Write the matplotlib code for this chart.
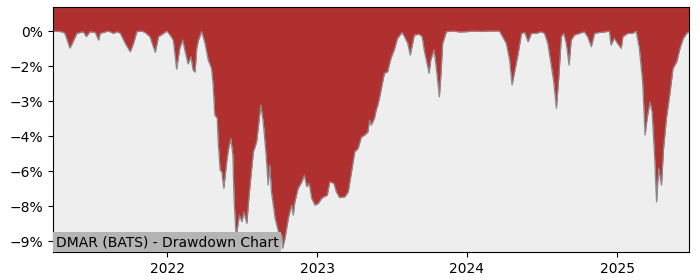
import matplotlib
matplotlib.use("Agg")
import matplotlib.pyplot as plt
import matplotlib.ticker as mticker
import pandas as pd

dates = [
    "2021-03-29", "2021-04-19", "2021-04-27", "2021-05-09", "2021-05-13", "2021-05-26",
    "2021-06-11", "2021-06-18", "2021-06-27", "2021-07-10", "2021-07-18", "2021-07-22",
    "2021-08-11", "2021-08-23", "2021-09-01", "2021-09-09", "2021-09-21", "2021-10-03",
    "2021-10-11", "2021-10-19", "2021-10-31", "2021-11-08", "2021-11-20", "2021-12-03",
    "2021-12-11", "2021-12-23", "2021-12-31", "2022-01-08", "2022-01-16", "2022-01-24",
    "2022-02-01", "2022-02-08", "2022-02-13", "2022-02-21", "2022-02-28", "2022-03-05",
    "2022-03-10", "2022-03-14", "2022-03-18", "2022-03-26", "2022-04-03", "2022-04-11",
    "2022-04-19", "2022-04-23", "2022-04-27", "2022-05-03", "2022-05-05", "2022-05-10",
    "2022-05-14", "2022-05-19", "2022-05-26", "2022-05-30", "2022-06-05", "2022-06-10",
    "2022-06-13", "2022-06-18", "2022-06-26", "2022-07-02", "2022-07-07", "2022-07-14",
    "2022-07-20", "2022-07-30", "2022-08-07", "2022-08-17", "2022-08-23", "2022-08-30",
    "2022-09-04", "2022-09-08", "2022-09-12", "2022-09-21", "2022-09-29", "2022-10-07",
    "2022-10-09", "2022-10-15", "2022-10-23", "2022-10-31", "2022-11-04", "2022-11-08",
    "2022-11-16", "2022-11-25", "2022-12-01", "2022-12-07", "2022-12-13", "2022-12-19",
    "2022-12-27", "2023-01-04", "2023-01-12", "2023-01-18", "2023-01-26", "2023-02-01",
    "2023-02-11", "2023-02-17", "2023-02-25", "2023-03-10", "2023-03-18", "2023-03-26",
    "2023-04-03", "2023-04-11", "2023-04-19", "2023-04-27", "2023-05-05", "2023-05-09",
    "2023-05-13", "2023-05-21", "2023-05-25", "2023-05-29", "2023-06-02", "2023-06-06",
    "2023-06-14", "2023-06-22", "2023-06-30", "2023-07-08", "2023-07-16", "2023-07-27",
    "2023-08-02", "2023-08-10", "2023-08-16", "2023-08-26", "2023-09-07", "2023-09-14",
    "2023-09-19", "2023-10-01", "2023-10-05", "2023-10-13", "2023-10-19", "2023-10-26",
    "2023-10-30", "2023-11-03", "2023-11-12", "2023-11-28", "2023-12-14", "2023-12-30",
    "2024-01-19", "2024-02-08", "2024-02-25", "2024-03-20", "2024-03-28", "2024-04-06",
    "2024-04-14", "2024-04-20", "2024-04-27", "2024-05-05", "2024-05-13", "2024-05-21",
    "2024-05-29", "2024-06-06", "2024-06-18", "2024-06-30", "2024-07-08", "2024-07-16",
    "2024-07-25", "2024-07-30", "2024-08-06", "2024-08-12", "2024-08-18", "2024-08-24",
    "2024-08-30", "2024-09-06", "2024-09-11", "2024-09-19", "2024-10-01", "2024-10-13",
    "2024-10-21", "2024-10-30", "2024-11-07", "2024-11-19", "2024-12-05", "2024-12-13",
    "2024-12-17", "2024-12-25", "2025-01-02", "2025-01-11", "2025-01-15", "2025-01-27",
    "2025-02-08", "2025-02-16", "2025-02-24", "2025-03-04", "2025-03-10", "2025-03-15",
    "2025-03-22", "2025-03-27", "2025-04-02", "2025-04-07", "2025-04-12", "2025-04-19",
    "2025-04-24", "2025-05-01", "2025-05-09", "2025-05-17", "2025-05-26", "2025-06-03",
    "2025-06-11", "2025-06-19", "2025-06-25",
]

drawdown_pct = [
    0.00, -0.03, -0.10, -0.73, -0.60, -0.10,
    -0.03, -0.24, -0.03, -0.06, -0.39, -0.10,
    0.00, -0.10, -0.03, -0.10, -0.53, -0.89,
    -0.53, -0.03, 0.00, -0.06, -0.24, -0.91,
    -0.24, -0.10, 0.00, -0.17, -0.39, -1.63,
    -0.71, -0.39, -0.81, -1.41, -1.10, -1.67,
    -1.76, -0.74, -0.39, -0.02, -0.51, -1.24,
    -1.60, -2.31, -3.60, -3.74, -4.67, -5.96,
    -6.03, -6.74, -5.60, -5.10, -4.60, -5.31,
    -7.24, -8.82, -7.89, -8.17, -7.75, -8.24,
    -6.96, -5.17, -4.75, -3.17, -3.89, -5.31,
    -6.60, -5.74, -6.89, -8.03, -8.60, -8.74,
    -9.31, -8.88, -8.03, -7.46, -7.89, -7.32,
    -6.74, -6.46, -6.17, -6.67, -6.53, -7.17,
    -7.46, -7.39, -7.17, -7.10, -7.03, -6.46,
    -6.53, -6.89, -7.14, -7.10, -6.89, -6.03,
    -5.17, -5.03, -4.54, -4.46, -4.32, -3.81,
    -4.03, -3.73, -3.39, -3.17, -2.88, -2.53,
    -1.81, -1.74, -1.17, -0.81, -0.31, -0.06,
    -0.24, -0.53, -1.03, -0.17, -0.14, -0.24,
    -0.81, -1.81, -1.24, -0.81, -1.67, -2.82,
    -1.81, -0.53, -0.03, 0.00, -0.04, -0.03,
    0.00, -0.02, 0.00, 0.00, -0.24, -0.53,
    -1.24, -2.31, -1.67, -0.96, -0.10, -0.06,
    -0.46, -0.10, -0.10, -0.03, -0.10, -0.53,
    -1.53, -2.10, -3.31, -1.96, -0.24, -0.10,
    -0.53, -1.46, -0.39, -0.17, -0.10, -0.03,
    -0.24, -0.67, -0.10, -0.06, -0.03, 0.00,
    -0.60, -0.31, -0.53, -0.74, -0.24, -0.10,
    -0.10, 0.00, -0.74, -2.17, -4.46, -3.74,
    -3.03, -3.46, -5.31, -7.32, -5.89, -6.60,
    -5.03, -3.74, -2.74, -1.60, -1.32, -0.74,
    -0.31, -0.10, -0.02,
]

y_ticks = [0, -1.5, -3, -4.5, -6, -7.5, -9]
title_text = "DMAR (BATS) - Drawdown Chart"

x = pd.to_datetime(dates)

fig = plt.figure(figsize=(7, 2.8), dpi=100)
ax = fig.add_axes([53 / 700, 1 - 252 / 280, 636 / 700, 245 / 280])
ax.set_facecolor("#eeeeee")

top = 1.03
ax.fill_between(x, drawdown_pct, top + 1, color="#b03030", linewidth=0)
ax.plot(x, drawdown_pct, color="#888888", linewidth=0.9)

ax.set_xlim(x[0], x[-1])
ax.set_ylim(-9.47, top)
ax.set_yticks(y_ticks)
ax.yaxis.set_major_formatter(
    mticker.FuncFormatter(lambda v, p: f"{v:.0f}%".replace("-", "\u2212") if abs(v) > 1e-9 else "0%")
)
ax.set_xticks(pd.to_datetime(["2022-01-01", "2023-01-01", "2024-01-01", "2025-01-01"]))
ax.set_xticklabels(["2022", "2023", "2024", "2025"])
ax.tick_params(labelsize=10)

ax.text(0.0044, 0.0114, title_text, transform=ax.transAxes, fontsize=10,
        ha="left", va="bottom", color="black",
        bbox=dict(facecolor="#b4b4b4", edgecolor="none", pad=2))

fig.savefig("out.png", dpi=100)
